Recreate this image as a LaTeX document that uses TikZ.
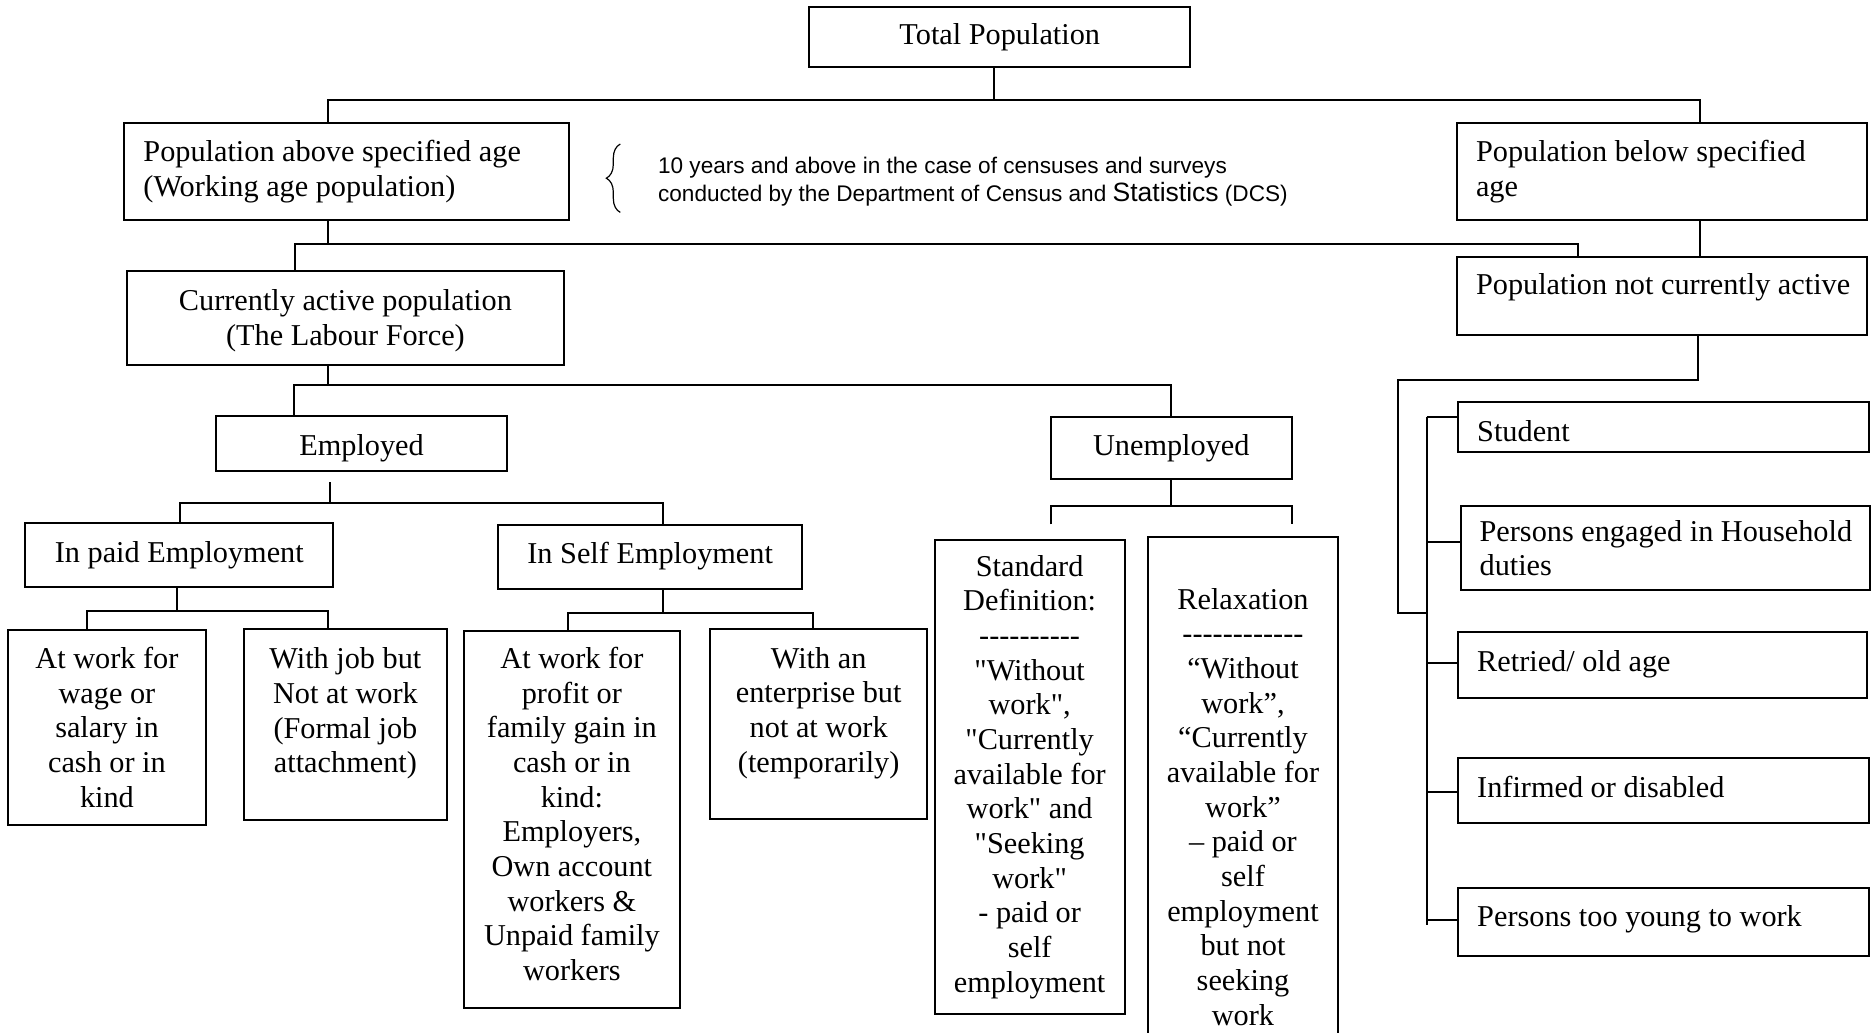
\documentclass[tikz,border=0pt]{standalone}
\usepackage{fontspec}
\newfontfamily\tnr{Liberation Serif}
\newfontfamily\arl{Liberation Sans}
\usetikzlibrary{decorations.pathreplacing}
\newcommand\xdp[1]{\rule[-#1]{0pt}{0pt}}
\newcommand\xup[1]{\rule{0pt}{#1}}
\newcommand\bodyf{\tnr\fontsize{15.2}{17.4}\selectfont}
\tikzset{
  box/.style={draw, line width=1pt, inner sep=0pt, font=\bodyf,
    execute at begin node={\spaceskip=0.25em plus 0.05em minus 0.05em\relax}},
  ln/.style={line width=1pt}
}
\begin{document}
\begin{tikzpicture}[x=0.6pt, y=-0.6pt]
\useasboundingbox (0,0) rectangle (1568,864);
\clip (0,0) rectangle (1568,864);

% ---- top levels
\node[box, minimum width=191.4pt, minimum height=30pt, align=center] (tp) at (836.5,31) {Total Population};
\node[box, minimum width=223.2pt, minimum height=48.6pt, align=left, text width=204pt] (pa) at (290,143.5)
  {\mbox{Population above specified age}\\\mbox{(Working age population)}};
\node[box, minimum width=205.8pt, minimum height=48.6pt, align=left, text width=186.6pt] (pb) at (1390.5,143.5)
  {\mbox{Population below specified}\\age};
\node[box, minimum width=205.8pt, minimum height=39pt, align=left, text width=186.6pt] (pn) at (1390.5,247.5)
  {\mbox{Population not currently active}\xdp{12.3pt}};
\node[box, minimum width=219.6pt, minimum height=46.8pt, align=center] (ca) at (289,266)
  {Currently active population\xup{13.3pt}\\(The Labour Force)};

% ---- note with brace
\draw[line width=0.6pt, decorate, decoration={brace, amplitude=7pt}] (519,177.7) -- (519,120.5);
\node[anchor=west, inner sep=0pt, align=left, font=\arl\fontsize{11.34}{14.4}\selectfont] (note) at (550.3,152)
  {10 years and above in the case of censuses and surveys\\conducted by the Department of Census and {\fontsize{13.3}{14.4}\selectfont Statistics} (DCS)};

% ---- employed / unemployed
\node[box, minimum width=145.8pt, minimum height=27.6pt, align=center] (emp) at (302.5,371) {Employed\xup{15pt}};
\node[box, minimum width=121.2pt, minimum height=30.9pt, align=center] (un) at (980,374.7) {Unemployed};
\node[box, minimum width=154.8pt, minimum height=31.8pt, align=center] (ip) at (150,464.5) {In paid Employment};
\node[box, minimum width=152.4pt, minimum height=32.1pt, align=center] (is) at (544,465.7) {In Self Employment};

\node[box, minimum width=99.6pt, minimum height=97.8pt, align=center] (aw) at (89.5,608.5)
  {At work for\\wage or\\salary in\\cash or in\\kind};
\node[box, minimum width=102pt, minimum height=95.7pt, align=center] (wj) at (289,606.2)
  {With job but\\Not at work\\(Formal job\\attachment)\xdp{14.3pt}};
\node[box, minimum width=108.6pt, minimum height=189pt, align=center] (ap) at (478.5,685.5)
  {At work for\\profit or\\family gain in\\cash or in\\kind:\\Employers,\\Own account\\workers \&\\Unpaid family\\workers\xdp{5.6pt}};
\node[box, minimum width=109.2pt, minimum height=95.4pt, align=center] (we) at (685,606)
  {With an\\enterprise but\\not at work\\(temporarily)\xdp{14.7pt}};

\node[box, minimum width=95.4pt, minimum height=237.6pt, align=center] (sd) at (861.5,650)
  {Standard\\Definition:\\----------\\"Without\\work",\\"Currently\\available for\\work" and\\"Seeking\\work"\\- paid or\\self\\employment};
\node[box, minimum width=95.4pt, minimum height=271.2pt, align=center] (rx) at (1040,675)
  {Relaxation\\------------\\“Without\\work”,\\“Currently\\available for\\work”\\– paid or\\self\\employment\\but not\\seeking\\work};

% ---- not active categories
\node[box, minimum width=206.4pt, minimum height=25pt, align=left, text width=187.2pt] (st) at (1392,357) {Student\xup{15pt}};
\node[box, minimum width=205.8pt, minimum height=42.6pt, align=left, text width=186.6pt] (hh) at (1393.5,458.5)
  {\mbox{Persons engaged in Household}\\duties};
\node[box, minimum width=205.2pt, minimum height=33.3pt, align=left, text width=186pt] (rt) at (1391,556.2) {\mbox{Retried/ old age}};
\node[box, minimum width=206.4pt, minimum height=33pt, align=left, text width=187.2pt] (inf) at (1392,661.5) {\mbox{Infirmed or disabled}\xdp{3.6pt}};
\node[box, minimum width=206.4pt, minimum height=34.2pt, align=left, text width=187.2pt] (ty) at (1392,771.5) {\mbox{Persons too young to work}\xdp{5.7pt}};

% ---- connectors
\draw[ln] (tp.south -| 831.5,0) -- (831.5,84);
\draw[ln] (pa.north -| 274.5,0) -- (274.5,84) -- (1422,84) -- (pb.north -| 1422,0);
\draw[ln] (pa.south -| 274.5,0) -- (274.5,204);
\draw[ln] (ca.north -| 247,0) -- (247,204) -- (1320,204) -- (pn.north -| 1320,0);
\draw[ln] (pb.south -| 1422,0) -- (pn.north -| 1422,0);
\draw[ln] (ca.south -| 274.5,0) -- (274.5,322);
\draw[ln] (emp.north -| 246,0) -- (246,322) -- (980,322) -- (un.north -| 980,0);

\coordinate (e1) at (276,403.3);
\draw[ln] (e1) -- (276,420.6);
\draw[ln] (ip.north -| 150.5,0) -- (150.5,420.6) -- (555,420.6) -- (is.north -| 555,0);
\draw[ln] (ip.south -| 148.5,0) -- (148.5,511.5);
\draw[ln] (aw.north -| 72.5,0) -- (72.5,511.5) -- (274.5,511.5) -- (wj.north -| 274.5,0);
\draw[ln] (is.south -| 555,0) -- (555,513);
\draw[ln] (ap.north -| 475.5,0) -- (475.5,513) -- (680,513) -- (we.north -| 680,0);

\coordinate (u1) at (879,438.7);
\coordinate (u2) at (1081,438.7);
\draw[ln] (un.south -| 980,0) -- (980,423.2);
\draw[ln] (u1) -- (879,423.2) -- (1081,423.2) -- (u2);

\draw[ln] (pn.south -| 1420.3,0) -- (1420.3,318) -- (1170,318) -- (1170,512.7) -- (1193.7,512.7);
\coordinate (r1) at (1193.7,348.9);
\coordinate (r2) at (1193.7,773.8);
\draw[ln] (r1) -- (r2);
\draw[ln] (r1) -- (st.west |- 0,348.9);
\draw[ln] (1193.7,453.9) -- (hh.west |- 0,453.9);
\draw[ln] (1193.7,554.9) -- (rt.west |- 0,554.9);
\draw[ln] (1193.7,663) -- (inf.west |- 0,663);
\draw[ln] (1193.7,769.4) -- (ty.west |- 0,769.4);
\end{tikzpicture}
\end{document}
